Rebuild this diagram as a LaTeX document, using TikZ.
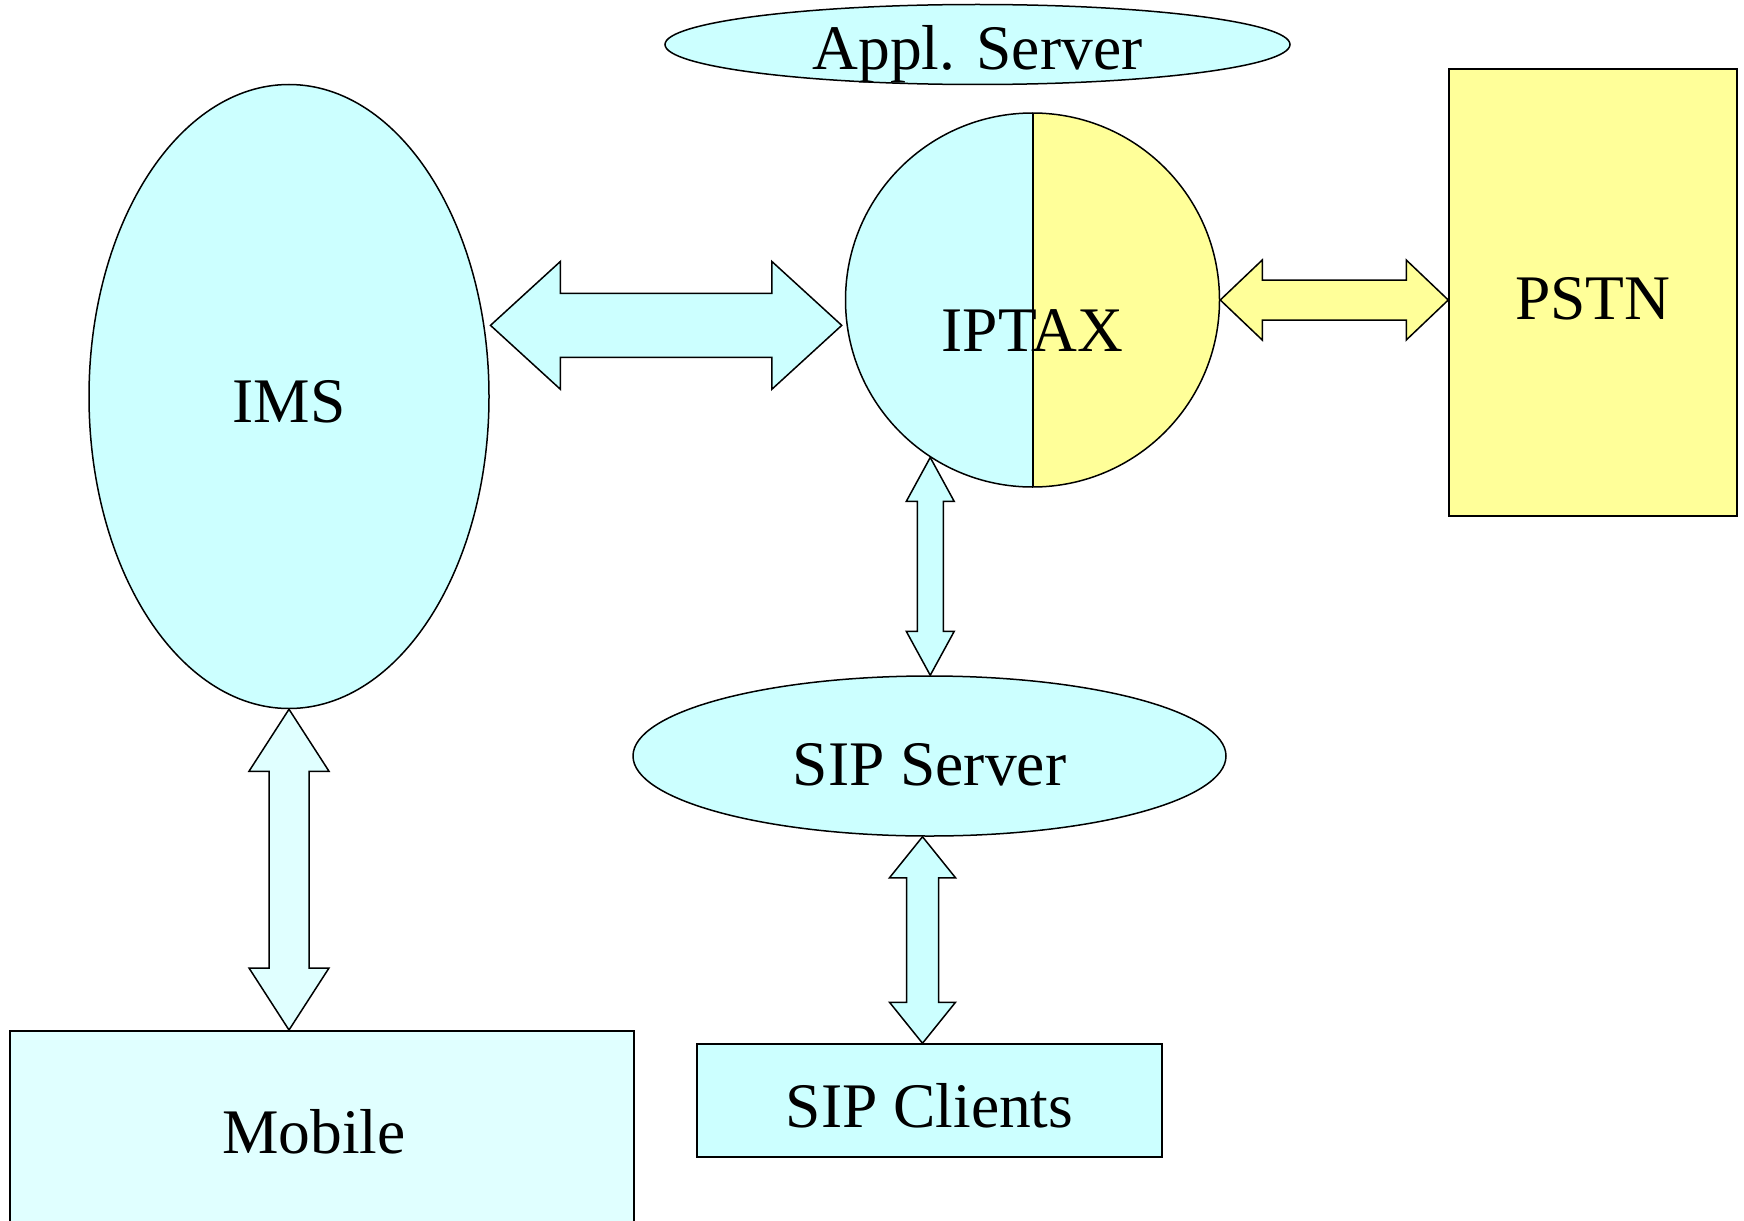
\documentclass[tikz,border=0pt]{standalone}
\usepackage{fontspec}
\setmainfont{Liberation Serif}
\usetikzlibrary{shapes.geometric,calc}
\definecolor{lightcyan}{HTML}{CCFFFF}
\definecolor{palecyan}{HTML}{E0FFFF}
\definecolor{lightyellow}{HTML}{FFFF99}
% fill, from, to, shaft half width, head half width, head length
\newcommand\linkarrow[6]{%
  \filldraw[fill=#1] (#2)
    -- ($(#2)!#6!(#3)!#5!90:(#3)$) -- ($(#2)!#6!(#3)!#4!90:(#3)$)
    -- ($(#3)!#6!(#2)!#4!-90:(#2)$) -- ($(#3)!#6!(#2)!#5!-90:(#2)$)
    -- (#3)
    -- ($(#3)!#6!(#2)!#5!90:(#2)$) -- ($(#3)!#6!(#2)!#4!90:(#2)$)
    -- ($(#2)!#6!(#3)!#4!-90:(#3)$) -- ($(#2)!#6!(#3)!#5!-90:(#3)$)
    -- cycle;}
\begin{document}
\begin{tikzpicture}[
    x = 0.5pt, y = -0.5pt,
    line width = 0.75pt,
    font = \fontsize{31.75}{38}\selectfont,
    every node/.style = {draw, inner sep = 0pt, text depth = 0pt, text height = 27pt},
    oval/.style = {ellipse, fill = lightcyan},
    block/.style = {rectangle}]
  \useasboundingbox (0,0) rectangle (1744,1220);
  \clip (0,0) rectangle (1744,1220);
  \node[oval, minimum width = 312.5pt, minimum height = 40pt, text height = 25.5pt] (appl) at (977.5,44.5) {Appl. Server};
  \node[oval, minimum width = 200pt, minimum height = 312pt, text height = 26pt] (ims) at (289,396.5) {IMS};
  \node[circle, minimum size = 187pt, text height = 51pt,
    path picture = {
      \fill[lightcyan] (path picture bounding box.north west) rectangle (path picture bounding box.south);
      \fill[lightyellow] (path picture bounding box.north) rectangle (path picture bounding box.south east);
      \draw[line width = 1pt] (path picture bounding box.north) -- (path picture bounding box.south);}] (iptax) at (1032.5,300) {IPTAX};
  \node[block, fill = lightyellow, minimum width = 144pt, minimum height = 223.5pt] (pstn) at (1593,292.5) {PSTN};
  \node[oval, minimum width = 296.5pt, minimum height = 80pt, text height = 29pt] (sipsrv) at (929.5,756) {SIP Server};
  \node[block, fill = lightcyan, minimum width = 232.5pt, minimum height = 56.5pt] (sipcl) at (929.5,1100.5) {SIP Clients};
  \node[block, fill = palecyan, anchor = north, minimum width = 312pt, minimum height = 105pt, text height = 18pt] (mobile) at (322,1030) {Mobile\kern8pt};
  \coordinate (imsport) at ([xshift = 3pt]ims.20);
  \path (iptax.west |- imsport) ++(-3,0) coordinate (iptaxport);
  \coordinate (srvfoot) at ([xshift = -3.5pt]sipsrv.south);
  \linkarrow{lightcyan}{imsport}{iptaxport}{16pt}{32pt}{35pt}
  \linkarrow{lightyellow}{iptax.east}{pstn.west |- iptax.east}{10pt}{20pt}{21pt}
  \linkarrow{lightcyan}{iptax.237}{iptax.237 |- sipsrv.north}{6.5pt}{12pt}{22pt}
  \linkarrow{lightcyan}{srvfoot}{srvfoot |- sipcl.north}{8pt}{16.5pt}{20.5pt}
  \linkarrow{palecyan}{ims.south}{ims.south |- mobile.north}{10pt}{20pt}{31pt}
\end{tikzpicture}
\end{document}
